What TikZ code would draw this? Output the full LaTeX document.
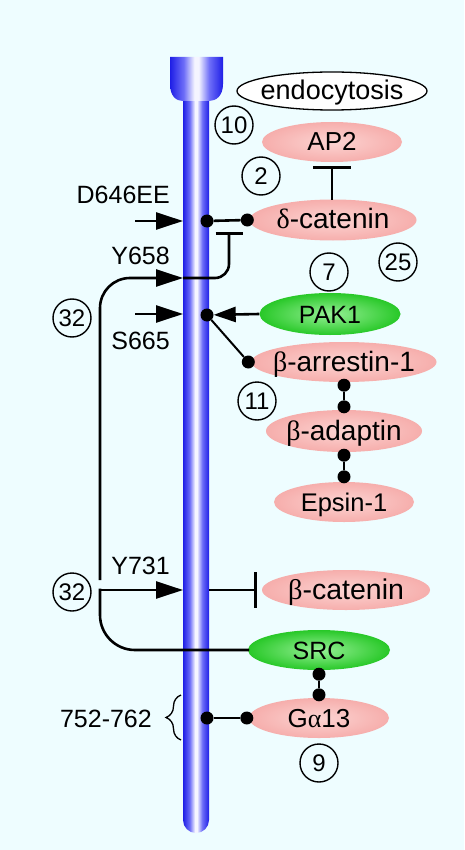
\documentclass[tikz,border=0pt]{standalone}
\usepackage{fontspec}
\setmainfont{Liberation Sans}
\newfontfamily\grk{Liberation Serif}
\usetikzlibrary{shapes.geometric,arrows.meta,decorations.pathreplacing}
\definecolor{bgc}{RGB}{238,253,255}
\definecolor{pinkin}{RGB}{252,212,210}
\definecolor{pinkout}{RGB}{246,174,172}
\definecolor{grnin}{RGB}{150,240,150}
\definecolor{grnout}{RGB}{40,200,40}
\definecolor{rblue}{RGB}{30,30,230}
\definecolor{rmid}{RGB}{110,110,248}
\definecolor{rhi}{RGB}{245,245,255}
\pgfdeclarehorizontalshading{rcpt}{100bp}{color(0bp)=(rblue); color(25bp)=(rblue); color(38bp)=(rmid); color(48bp)=(rhi); color(52bp)=(rhi); color(62bp)=(rmid); color(75bp)=(rblue); color(100bp)=(rblue)}
\newcommand{\zw}[1]{\makebox[0pt]{#1}}
\newcommand{\fs}[1]{\fontsize{#1}{#1}\selectfont}
\begin{document}
\begin{tikzpicture}[x=1pt,y=-1pt,
 txt/.style={font=\fs{25}, text height=18pt, text depth=0pt, inner sep=0pt},
 prot/.style={ellipse, txt, shade, inner color=pinkin, outer color=pinkout, minimum height=40pt},
 kin/.style={ellipse, txt, shade, inner color=grnin, outer color=grnout, minimum height=42pt},
 num/.style={circle, draw, line width=1.4pt, minimum size=38pt, inner sep=0pt, font=\fs{24}},
 dot/.style={circle, fill=black, minimum size=13pt, inner sep=0pt},
 lbl/.style={txt, anchor=east},
 conn/.style={line width=2.6pt},
 slim/.style={line width=2pt},
 act/.style={conn, -{Triangle[length=27pt,width=17pt]}},
 inh/.style={conn, -{Bar[width=#1]}},
]
% background
\fill[bgc] (0,0) rectangle (464,850);
\useasboundingbox (0,0) rectangle (464,850);
% receptor
\shade[shading=rcpt, rounded corners=13pt]
  (183,70) -- (183,833) -- (209,833) -- (209,70) -- cycle;
\shade[shading=rcpt]
  (170,57) -- (223,57) -- (223,84) .. controls (223,96) and (216,101) .. (209,101)
  -- (183,101) .. controls (176,101) and (170,96) .. (170,84) -- cycle;
% protein nodes
\node[ellipse, draw, fill=white, line width=1.3pt, txt, font=\fs{27}, minimum width=190pt, minimum height=38pt] (endo) at (332,91) {\zw{endocytosis}};
\node[prot, font=\fs{26}, minimum width=140pt] (ap2) at (332,142) {\zw{AP2}};
\node[prot, font=\fs{28}, minimum width=167pt, minimum height=41pt] (dcat) at (333,220) {\zw{{\grk δ}-catenin}};
\node[kin, minimum width=141pt] (pak) at (330,314) {\zw{PAK1}};
\node[prot, font=\fs{28}, minimum width=185pt] (barr) at (344,362) {\zw{{\grk β}-arrestin-1}};
\node[prot, font=\fs{28}, minimum width=156pt, minimum height=42pt] (badp) at (344,431) {\zw{{\grk β}-adaptin}};
\node[prot, font=\fs{25.5}, minimum width=140pt] (eps) at (344,502) {\zw{Epsin-1}};
\node[prot, font=\fs{28.5}, minimum width=168pt] (bcat) at (346,590) {\zw{{\grk β}-catenin}};
\node[kin, minimum width=142pt, minimum height=40pt] (src) at (319,650) {\zw{SRC}};
\node[prot, font=\fs{26}, minimum width=140pt] (ga) at (319,718) {\zw{G{\grk α}13}};
% reference numbers
\node[num] (n10) at (234,125) {10};
\node[num] (n2) at (261,176) {2};
\node[num] (n25) at (398,262) {25};
\node[num] (n7) at (329,272) {7};
\node[num] (n32a) at (72,318) {32};
\node[num] (n11) at (257,401) {11};
\node[num] (n32b) at (72,592) {32};
\node[num] (n9) at (319,763) {9};
% site labels
\node[lbl] (lD) at (170,195) {D646EE};
\node[lbl] (lY1) at (170,255) {Y658};
\node[lbl] (lS) at (170,340) {S665};
\node[lbl] (lY2) at (170,565) {Y731};
\node[lbl] (lR) at (152,718) {752-762};
% coordinates
\coordinate (aD0) at (135,221); \coordinate (aD1) at (183,221);
\coordinate (aS0) at (135,314); \coordinate (aS1) at (183,314);
\coordinate (c32a) at (100,580); \coordinate (y658) at (183,278); \coordinate (tD) at (229,232);
\coordinate (c32b) at (100,590); \coordinate (y731) at (183,590);
\coordinate (rY) at (209,590); \coordinate (tB) at (257,590);
\coordinate (tAP) at (332,166);
\coordinate (br0) at (181,740); \coordinate (br1) at (181,695);
% connectors
\draw[act] (aD0) -- (aD1);
\draw[act] (aS0) -- (aS1);
\draw[act, rounded corners=30pt] (c32a) |- (y658);
\draw[inh=27pt, rounded corners=14pt] (y658) -| (tD);
\draw[conn, line cap=rect, rounded corners=35pt] (src.west) -| (c32b);
\draw[act] (c32b) -- (y731);
\draw[inh=36pt] (rY) -- (tB);
\draw[inh=38pt] (332,200) -- (tAP);
\draw[line width=1.3pt, decorate, decoration={brace, amplitude=15pt, aspect=0.5}] (br0) -- (br1);
% dots
\node[dot] (r1) at (207,221) {};
\node[dot] (d1) at ([xshift=-2pt]dcat.west) {};
\node[dot] (r2) at (207,315) {};
\node[dot] (b1) at ([xshift=-3pt]barr.west) {};
\node[dot] (b2) at ([yshift=-3pt]barr.south) {};
\node[dot] (b3) at ([yshift=3pt]badp.north) {};
\node[dot] (b4) at ([yshift=-3pt]badp.south) {};
\node[dot] (b5) at ([yshift=5pt]eps.north) {};
\node[dot] (s1) at ([yshift=-4pt]src.south) {};
\node[dot] (g1) at ([yshift=3pt]ga.north) {};
\node[dot] (r3) at (207,718) {};
\node[dot] (g2) at ([xshift=-2pt]ga.west) {};
\draw[conn] (r1) -- (d1);
\draw[conn, -{Triangle[length=22pt,width=15pt]}] (pak.west) -- (r2);
\draw[slim] (r2) -- (b1);
\draw[conn] (b2) -- (b3);
\draw[conn] (b4) -- (b5);
\draw[conn] (s1) -- (g1);
\draw[slim] (r3) -- (g2);
\end{tikzpicture}
\end{document}
